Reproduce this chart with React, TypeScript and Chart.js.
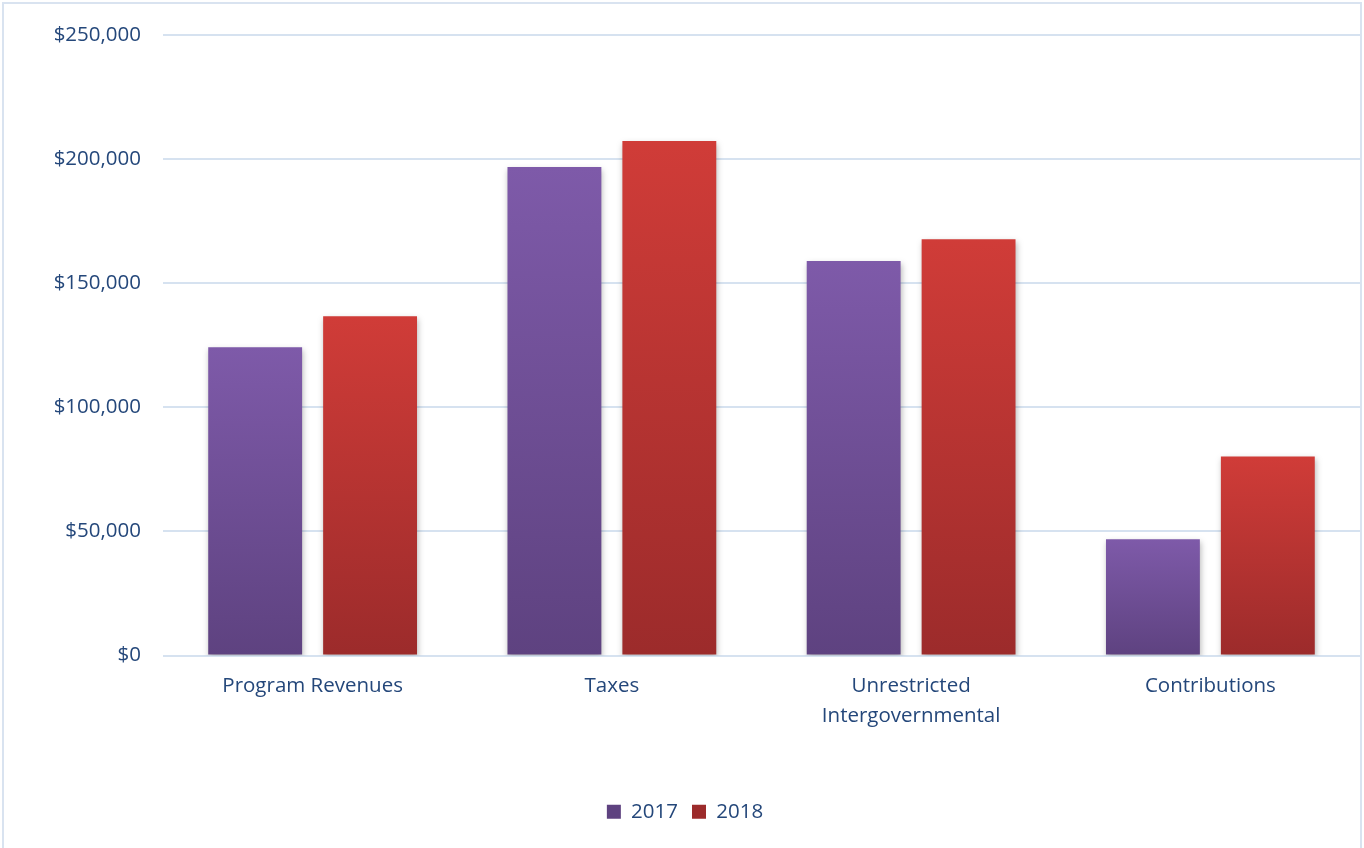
import React, { useEffect, useRef } from "react";
import { Chart, registerables } from "chart.js";

Chart.register(...registerables);

const categories: (string | string[])[] = [
  "Program Revenues",
  "Taxes",
  ["Unrestricted", "Intergovernmental"],
  "Contributions",
];
const seriesNames = ["2017", "2018"];
const values2017 = [124200, 196800, 158900, 46800];
const values2018 = [136700, 207300, 167700, 80200];
const yTicks = [0, 50000, 100000, 150000, 200000, 250000];

const TEXT = "#24477a";
const FONT = "Open Sans";
const FS = 20.5;

const gradFor = (top: string, bottom: string, mid: string) => (ctx: any) => {
  const chart = ctx.chart;
  const ys = chart.scales && chart.scales.y;
  if (ctx.type !== "data" || !ys || !ctx.parsed) return mid;
  const yTop = ys.getPixelForValue(ctx.parsed.y);
  const yBase = ys.getPixelForValue(0);
  if (!isFinite(yTop) || !isFinite(yBase) || yTop === yBase) return mid;
  const g = chart.ctx.createLinearGradient(0, yTop, 0, yBase);
  g.addColorStop(0, top);
  g.addColorStop(1, bottom);
  return g;
};

const shadowPlugin = {
  id: "barShadow",
  beforeDatasetsDraw(chart: any) {
    const c = chart.ctx;
    c.save();
    c.shadowColor = "rgba(0,0,0,0.28)";
    c.shadowBlur = 6;
    c.shadowOffsetX = 1;
    c.shadowOffsetY = 3;
  },
  afterDatasetsDraw(chart: any) {
    chart.ctx.restore();
  },
};

export default function App() {
  const ref = useRef<HTMLCanvasElement>(null);
  useEffect(() => {
    if (!ref.current) return;
    const chart = new Chart(ref.current, {
      type: "bar",
      data: {
        labels: categories,
        datasets: [
          {
            label: seriesNames[0],
            data: values2017,
            backgroundColor: gradFor("#7e5aa9", "#5e4280", "#7052a0"),
            borderWidth: 0,
          },
          {
            label: seriesNames[1],
            data: values2018,
            backgroundColor: gradFor("#d03c38", "#9c2b2b", "#c23634"),
            borderWidth: 0,
          },
        ],
      },
      plugins: [shadowPlugin],
      options: {
        animation: false,
        responsive: false,
        devicePixelRatio: 1,
        layout: { padding: { left: 10, top: 35, right: 4, bottom: 16 } },
        datasets: {
          bar: { categoryPercentage: 0.768, barPercentage: 0.817 },
        },
        scales: {
          x: {
            grid: { display: false, drawTicks: false },
            border: { display: false },
            ticks: {
              color: TEXT,
              font: { family: FONT, size: FS, lineHeight: 1.45 },
              padding: 16,
              maxRotation: 0,
              autoSkip: false,
            },
            afterFit: (s: any) => {
              s.height = 132;
            },
          },
          y: {
            min: 0,
            max: 250000,
            afterBuildTicks: (s: any) => {
              s.ticks = yTicks.map((v) => ({ value: v }));
            },
            grid: { color: "#d6e2f0", lineWidth: 2, drawTicks: false },
            border: { display: false },
            ticks: {
              color: TEXT,
              font: { family: FONT, size: FS },
              padding: 22,
              callback: (v: any) => "$" + Number(v).toLocaleString("en-US"),
            },
            afterFit: (s: any) => {
              s.width = 153;
            },
          },
        },
        plugins: {
          legend: {
            position: "bottom",
            labels: {
              color: TEXT,
              font: { family: FONT, size: FS },
              boxWidth: 14,
              boxHeight: 14,
              padding: 14,
            },
          },
          tooltip: { enabled: false },
        },
      },
    });
    return () => chart.destroy();
  }, []);

  return (
    <div style={{ position: "fixed", left: 0, top: 0, width: 1364, height: 848, overflow: "hidden", background: "#fff" }}>
      <div
        style={{
          position: "absolute",
          left: 2,
          top: 2,
          width: 1360,
          height: 900,
          border: "2px solid #d9e3f0",
          boxSizing: "border-box",
        }}
      />
      <canvas ref={ref} width={1364} height={848} style={{ position: "absolute", left: 0, top: 0 }} />
    </div>
  );
}
